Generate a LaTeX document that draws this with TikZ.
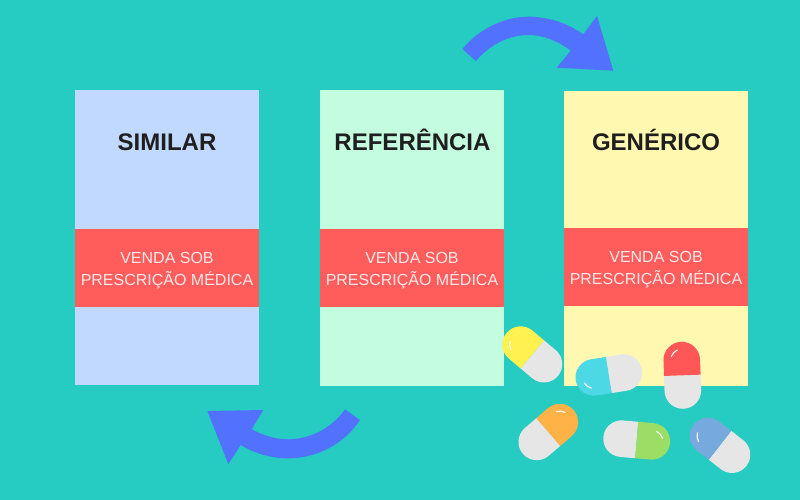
\documentclass[tikz,border=0pt]{standalone}
\usepackage{fontspec}
\setmainfont{Liberation Sans}
\definecolor{bg}{HTML}{26CBC1}
\definecolor{pblue}{HTML}{C2D9FF}
\definecolor{pgreen}{HTML}{C4FCDF}
\definecolor{pyellow}{HTML}{FFF8B0}
\definecolor{band}{HTML}{FF5C5C}
\definecolor{arrowblue}{HTML}{5271FF}
\definecolor{capgrey}{HTML}{E6E6E6}
\definecolor{cyellow}{HTML}{FFF150}
\definecolor{ccyan}{HTML}{4DD8E6}
\definecolor{cred}{HTML}{FF5757}
\definecolor{corange}{HTML}{FFB347}
\definecolor{cgreen}{HTML}{9CDE65}
\definecolor{cblue}{HTML}{76A9DD}
\tikzset{
  panel/.style={minimum width=184pt,minimum height=295pt,inner sep=0pt,outer sep=0pt},
  bandbox/.style={fill=band,minimum width=184pt,minimum height=78pt,inner sep=0pt,outer sep=0pt},
  bandtext/.style={yshift=-2.6pt,inner sep=0pt,text=white!85!band,align=center,font=\fontsize{16}{21.5}\selectfont},
  heading/.style={anchor=base,font=\bfseries\fontsize{24}{28}\selectfont,text=black!88},
  bigarrow/.style={fill=arrowblue,draw=none},
}
% centre x, centre y (screen), direction of the coloured half, colour
\newcommand{\capsule}[4]{%
  \begin{scope}[shift={(#1,#2)},rotate=#3,y=1pt]
    \fill[capgrey] (0,-18.3) -- (-15.2,-18.3) arc[start angle=270,end angle=90,radius=18.3] -- (0,18.3) -- cycle;
    \fill[#4] (0,-18.3) -- (15.2,-18.3) arc[start angle=-90,end angle=90,radius=18.3] -- (0,18.3) -- cycle;
    \draw[white,line width=1.1pt,line cap=round] ({15.2+11*cos(22)},{11*sin(22)}) arc[start angle=22,end angle=68,radius=11];
  \end{scope}}
\begin{document}
\begin{tikzpicture}[x=1pt,y=-1pt]
\useasboundingbox (0,0) rectangle (800,500);
\fill[bg] (0,0) rectangle (800,500);
% panels
\node[panel,fill=pblue,anchor=north west] (similar) at (75,90) {};
\node[panel,fill=pgreen,anchor=north west,minimum height=296pt] (referencia) at (320,90) {};
\node[panel,fill=pyellow,anchor=north west] (generico) at (564,91) {};
% bands
\node[bandbox,anchor=north west] (b1) at (75,229) {};
\node[bandbox,anchor=north west] (b2) at (320,229) {};
\node[bandbox,anchor=north west] (b3) at (564,228) {};
\node[bandtext] (l1) at (b1.center) {VENDA SOB\\PRESCRIÇÃO MÉDICA};
\node[bandtext] (l2) at (b2.center) {VENDA SOB\\PRESCRIÇÃO MÉDICA};
\node[bandtext] (l3) at (b3.center) {VENDA SOB\\PRESCRIÇÃO MÉDICA};
% headings
\node[heading] (t1) at (167,150.5) {SIMILAR};
\node[heading] (t2) at (412.5,150.5) {REFERÊNCIA};
\node[heading] (t3) at (656,150.5) {GENÉRICO};
% arrows
\fill[bigarrow] (462.3,49) .. controls (480,28) and (505,16.7) .. (528.3,16.7)
  .. controls (548,16.7) and (567,23) .. (583.3,34.3)
  -- (597,16) -- (613.3,70.7) -- (556.7,67.7) -- (570.7,50.7)
  .. controls (558,41) and (543,35) .. (528.3,35)
  .. controls (510,35) and (490,44) .. (476,61) -- cycle;
\fill[bigarrow] (360,420) .. controls (345,443) and (318,458.3) .. (288.3,458.3)
  .. controls (270,458.3) and (254,453) .. (240.7,445)
  -- (228.3,464) -- (207.3,411) -- (263.3,410) -- (251.7,429.3)
  .. controls (262,435) and (275,439.3) .. (288.3,439.3)
  .. controls (310,439.3) and (332,428) .. (345,409.3) -- cycle;
% capsules
\capsule{532.3}{354.4}{140}{cyellow}
\capsule{608.8}{375}{189}{ccyan}
\capsule{682.3}{375.3}{92}{cred}
\capsule{548.3}{432}{40.6}{corange}
\capsule{636.7}{440}{-5}{cgreen}
\capsule{720}{445.3}{142}{cblue}
\end{tikzpicture}
\end{document}
